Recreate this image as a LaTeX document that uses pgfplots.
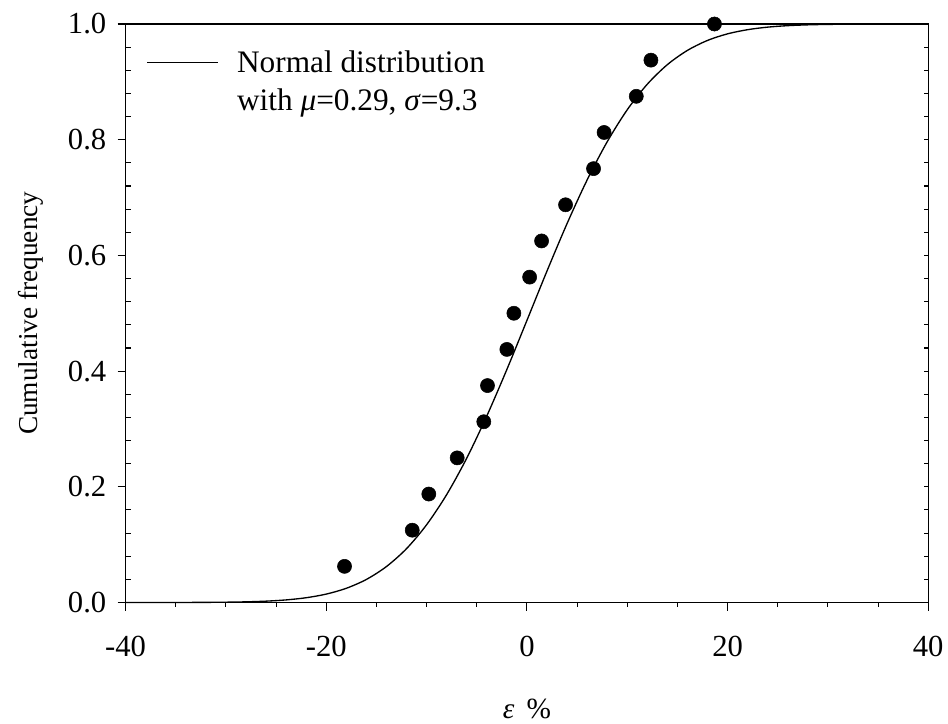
\documentclass[border=0pt]{standalone}
\usepackage{fontspec}
\setmainfont{Liberation Serif}
\usepackage{pgfplots}
\pgfplotsset{compat=1.18}
\begin{document}
\begin{tikzpicture}
\begin{axis}[
  scale only axis,
  width=602.5pt, height=434.25pt,
  xmin=-40, xmax=40, ymin=0, ymax=1,
  font=\fontsize{20}{24}\selectfont,
  tick label style={font=\fontsize{23}{27}\selectfont},
  axis line style={line width=1pt},
  xtick={-40,-20,0,20,40},
  xticklabels={-40,-20,0,20,40},
  minor x tick num=3,
  xtick pos=bottom, xtick align=outside,
  ytick={0,0.2,0.4,0.6,0.8,1.0},
  yticklabels={0.0,0.2,0.4,0.6,0.8,1.0},
  ytick pos=left, ytick align=outside,
  extra y ticks={0.04,0.08,0.12,0.16,0.24,0.28,0.32,0.36,0.44,0.48,0.52,0.56,0.64,0.68,0.72,0.76,0.84,0.88,0.92,0.96},
  extra y tick labels={},
  extra y tick style={tick align=inside, major tick length=4pt},
  major tick length=6pt, minor tick length=3pt,
  every tick/.style={black, line width=0.8pt},
  xticklabel shift=16pt,
  yticklabel shift=5pt,
  xlabel={\textit{ε}\, \%},
  ylabel={Cumulative frequency},
  xlabel style={at={(axis description cs:0.5,-0.184)}, anchor=center, font=\fontsize{22}{26}\selectfont},
  ylabel style={at={(axis description cs:-0.118,0.5)}, anchor=center, font=\fontsize{20.5}{24}\selectfont},
  legend style={draw=none, fill=none, at={(axis description cs:0.0207,0.964)}, anchor=north west,
    nodes={align=left, inner sep=2pt}, font=\fontsize{23.5}{28.5}\selectfont},
  legend cell align=left,
  clip=false,
]
\addplot[black, line width=1pt, smooth, legend image code/.code={\draw[black, line width=1pt] (0pt,14.25pt) -- (53pt,14.25pt); \path (65pt,14.25pt);}] coordinates {
(-40,0.0000074) (-36,0.000048) (-32,0.000258) (-30,0.00056) (-28,0.00117) (-26,0.00235)
(-24,0.0045) (-22,0.00827) (-20,0.01456) (-18,0.0246) (-16,0.0399) (-14,0.0622)
(-12,0.0931) (-10,0.1344) (-8,0.1865) (-6,0.2495) (-4,0.3224) (-2,0.4028)
(0,0.4876) (2,0.5730) (4,0.6550) (6,0.7304) (8,0.7964) (10,0.8518)
(12,0.8960) (14,0.9298) (16,0.9544) (18,0.9716) (20,0.9830) (22,0.9902)
(24,0.9946) (26,0.99715) (28,0.99856) (30,0.99930) (32,0.99967) (36,0.99994) (40,0.99999)
};
\addlegendentry{Normal distribution\\with \textit{μ}=0.29, \textit{σ}=9.3}
\addplot[only marks, mark=*, mark size=5.3pt, black, forget plot] coordinates {
(-18.18,0.0625) (-11.43,0.125) (-9.78,0.1875) (-6.95,0.25) (-4.30,0.3125) (-3.93,0.375)
(-2.00,0.4375) (-1.30,0.5) (0.27,0.5625) (1.46,0.625) (3.85,0.6875) (6.64,0.75)
(7.69,0.8125) (10.90,0.875) (12.36,0.9375) (18.69,1.0)
};
\path (rel axis cs:-0.1565,-0.2003) rectangle (rel axis cs:1.0237,1.0415);
\end{axis}
\begin{axis}[
  scale only axis,
  width=602.5pt, height=434.25pt,
  xmin=-40, xmax=40, ymin=0, ymax=1,
  axis x line=none, axis y line*=right,
  axis line style={line width=1pt, -},
  ytick={0,0.04,...,1.001},
  yticklabels={},
  ytick align=inside, major tick length=3.5pt,
  every tick/.style={black, line width=0.8pt},
]
\end{axis}
\end{tikzpicture}
\end{document}
